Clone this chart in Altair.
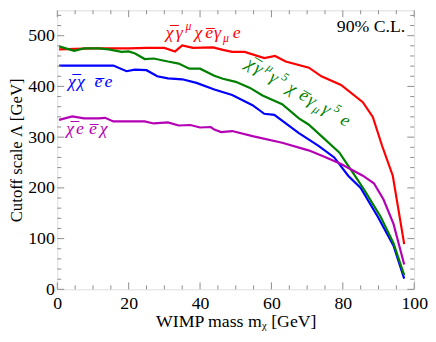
import altair as alt
import pandas as pd

# ---- data ----
red_m = [0.5, 5, 10, 15, 20, 25, 30, 33, 35, 38, 43.6, 46.4, 49, 52.5, 58, 61, 64, 70.5, 74, 79.5, 85.6, 88.4, 91, 94, 97.2]
red_v = [473, 474, 475, 475, 475, 476, 476, 469, 481, 476, 477, 472, 468, 468, 456, 460, 449, 437, 420, 403, 369, 340, 283, 224, 89]

blue_m = [0.5, 15.7, 19.4, 21.7, 25, 28, 31, 35, 39, 44, 49, 54.7, 58, 60.8, 67.7, 73.2, 77.6, 81.5, 85, 89.8, 94.2, 97.2]
blue_v = [441, 441, 430, 433, 432, 420, 416, 414, 407, 394, 383, 363, 346, 344, 308, 283, 260, 224, 200, 143, 86, 21]

green_m = [0.5, 4.7, 7.5, 11.6, 14.4, 18, 20, 21.8, 24.5, 27, 31, 34, 37, 40, 44, 46.4, 50, 54, 57.5, 63, 67.7, 70.4, 74, 79, 83, 86, 90.6, 94.2, 97.2]
green_v = [479, 470, 475, 475, 473, 468, 469, 465, 454, 455, 449, 445, 435, 435, 421, 415, 409, 397, 382, 365, 337, 325, 302, 270, 228, 196, 143, 91, 28]

mag_m = [0.5, 4.2, 7.5, 11.6, 13.4, 15.7, 24.5, 27, 31, 34, 37.3, 40, 43, 44, 45.9, 49, 54.7, 63, 70.4, 75, 79.5, 85.6, 88.7, 91.4, 94.2, 97.2]
mag_v = [334, 341, 337, 337, 338, 331, 331, 327, 329, 323, 324, 319, 320, 315, 310, 312, 302, 289, 274, 261, 247, 224, 209, 177, 129, 49]

series_names = ["vector", "scalar", "axial", "scalar_fierz"]
series_colors = ["#ff0000", "#0000ff", "#008000", "#b400b4"]

x_major = [0, 20, 40, 60, 80, 100]
x_minor = [5, 10, 15, 25, 30, 35, 45, 50, 55, 65, 70, 75, 85, 90, 95]
y_major = [0, 100, 200, 300, 400, 500]
y_minor = [20, 40, 60, 80, 120, 140, 160, 180, 220, 240, 260, 280, 320, 340, 360, 380, 420, 440, 460, 480, 520, 540]

OV = "\u0305"  # combining overline
# label anchors: (m, value, color, angle); pieces: (text, dx, dy, size)
labels = [
    (30.4, 496, "#ff0000", 0,
     [("χ" + OV, 0, 0, 18), ("γ", 10, 0, 18), ("μ", 20, -8, 12), ("χ", 29, 0, 18),
      ("e" + OV, 40, 0, 18), ("γ", 49, 0, 18), ("μ", 58, 4, 12), ("e", 68, 0, 18)]),
    (3.0, 398, "#0000ff", 0,
     [("χ" + OV, 0, 0, 18), ("χ", 9, 0, 18), ("e" + OV, 27, 0, 18), ("e", 37, 0, 18)]),
    (2.5, 306, "#b400b4", 0,
     [("χ" + OV, 0, 0, 18), ("e", 10, 0, 18), ("e" + OV, 23, 0, 18), ("χ", 34, 0, 18)]),
    (52.5, 440, "#008000", 31,
     [("χ" + OV, 0, 0, 18), ("γ", 10, 0, 18), ("μ", 20, -8, 12), ("γ", 28, 0, 18), ("5", 38, -8, 12),
      ("χ", 49, 0, 18), ("e" + OV, 63, 0, 18), ("γ", 73, 0, 18), ("μ", 82, 4, 12),
      ("γ", 90, 0, 18), ("5", 100, -8, 12), ("e", 112, 0, 18)]),
]

note_text = "90% C.L."
x_title = "WIMP mass mᵪ [GeV]"
y_title = "Cutoff scale Λ [GeV]"

W, H = 362, 283
FONT = "Times New Roman, Liberation Serif, DejaVu Serif, serif"
FRAME = "#8c8c8c"

rows = []
for name, ms, vs in zip(series_names, [red_m, blue_m, green_m, mag_m], [red_v, blue_v, green_v, mag_v]):
    for m, v in zip(ms, vs):
        rows.append({"series": name, "m": m, "v": v})
df = pd.DataFrame(rows)

xs = alt.Scale(domain=[0, 100], nice=False, zero=False)
ys = alt.Scale(domain=[0, 550], nice=False, zero=False)

lines = alt.Chart(df).mark_line(strokeWidth=2.2, clip=True).encode(
    x=alt.X("m:Q", scale=xs, axis=alt.Axis(
        values=x_major, ticks=False, domain=False, grid=False, labelFont=FONT, labelFontSize=18,
        labelColor="black", labelPadding=5, title=x_title, titleFont=FONT, titleFontSize=18,
        titleFontWeight="normal", titleColor="black", titlePadding=1, labelFlush=False)),
    y=alt.Y("v:Q", scale=ys, axis=alt.Axis(
        values=y_major, ticks=False, domain=False, grid=False, labelFont=FONT, labelFontSize=18,
        labelColor="black", labelPadding=3, title=y_title, titleFont=FONT, titleFontSize=17,
        titleFontWeight="normal", titleColor="black", titlePadding=2, labelFlush=False)),
    color=alt.Color("series:N", scale=alt.Scale(domain=series_names, range=series_colors), legend=None),
    detail="series:N",
)

layers = [lines]

def tick_layer(vals, axis, length):
    d = pd.DataFrame({"t": vals})
    out = []
    if axis == "x":
        for a, b in [(H, H - length), (0, length)]:
            out.append(alt.Chart(d).mark_rule(color=FRAME, strokeWidth=1).encode(
                x=alt.X("t:Q", scale=xs), y=alt.value(a), y2=alt.value(b)))
    else:
        for a, b in [(0, length), (W, W - length)]:
            out.append(alt.Chart(d).mark_rule(color=FRAME, strokeWidth=1).encode(
                y=alt.Y("t:Q", scale=ys), x=alt.value(a), x2=alt.value(b)))
    return out

layers += tick_layer(x_major, "x", 7)
layers += tick_layer(x_minor, "x", 4)
layers += tick_layer(y_major, "y", 7)
layers += tick_layer(y_minor, "y", 4)

for m, v, col, ang, pieces in labels:
    d = pd.DataFrame({"m": [m], "v": [v]})
    for txt, dx, dy, size in pieces:
        layers.append(alt.Chart(d).mark_text(
            text=txt, dx=dx, dy=dy, fontSize=size, font=FONT, fontStyle="italic",
            color=col, align="left", baseline="alphabetic", angle=ang).encode(
            x=alt.X("m:Q", scale=xs), y=alt.Y("v:Q", scale=ys)))

note = alt.Chart(pd.DataFrame({"m": [97.5], "v": [508]})).mark_text(
    text=note_text, fontSize=18, font=FONT, color="black", align="right", baseline="alphabetic").encode(
    x=alt.X("m:Q", scale=xs), y=alt.Y("v:Q", scale=ys))
layers.append(note)

chart = alt.layer(*layers).properties(
    width=W, height=H,
    autosize=alt.AutoSizeParams(type="none"),
    padding={"left": 50, "top": 0, "right": 14, "bottom": 47},
).configure_view(stroke=FRAME, strokeWidth=1).configure(background="white")

chart.save("out.html", embed_options={"renderer": "svg", "actions": False})
